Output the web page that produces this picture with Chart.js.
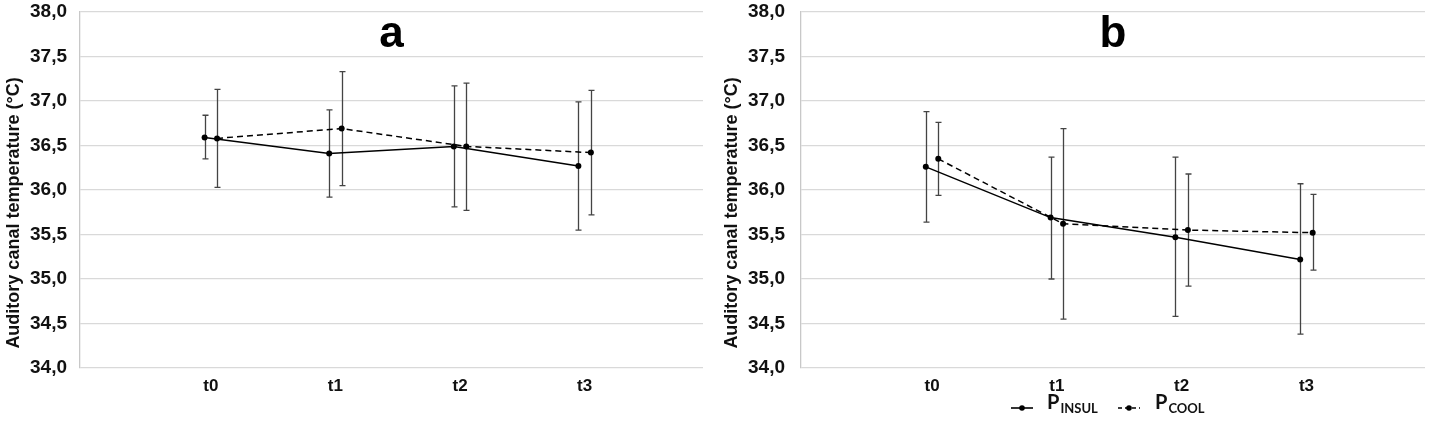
<!DOCTYPE html>
<html>
<head>
<meta charset="utf-8">
<script src="https://cdn.jsdelivr.net/npm/chart.js@4/dist/chart.umd.min.js"></script>
<style>
  html, body { margin: 0; padding: 0; background: #fff; }
  #wrap { position: relative; width: 1429px; height: 427px; }
  canvas { position: absolute; top: 0; }
</style>
</head>
<body>
<div id="wrap">
  <canvas id="cA" width="714" height="427" style="left:0px"></canvas>
  <canvas id="cB" width="712" height="427" style="left:717px"></canvas>
</div>
<script>
// ---- data ----
const categories = ['t0', 't1', 't2', 't3'];
const yTicks = [34.0, 34.5, 35.0, 35.5, 36.0, 36.5, 37.0, 37.5, 38.0];
const yTitle = 'Auditory canal temperature (°C)';

// panel a
const aInsul   = [36.59, 36.41, 36.49, 36.27];
const aInsulHi = [36.84, 36.90, 37.17, 36.99];
const aInsulLo = [36.35, 35.92, 35.81, 35.55];
const aCool    = [36.58, 36.69, 36.49, 36.42];
const aCoolHi  = [37.13, 37.33, 37.20, 37.12];
const aCoolLo  = [36.03, 36.05, 35.77, 35.72];

// panel b
const bInsul   = [36.26, 35.69, 35.47, 35.22];
const bInsulHi = [36.88, 36.37, 36.37, 36.07];
const bInsulLo = [35.64, 35.00, 34.58, 34.38];
const bCool    = [36.35, 35.62, 35.55, 35.52];
const bCoolHi  = [36.76, 36.69, 36.18, 35.95];
const bCoolLo  = [35.94, 34.55, 34.92, 35.10];

// ---- helpers ----
const SHIFT_INSUL = 1.0, SHIFT_COOL = 1.1, LABEL_SHIFT = 1.05;
const AX = "'Liberation Sans', Arial, sans-serif";

function pts(vals, shift) { return vals.map((v, i) => ({ x: i + shift, y: v })); }
function noPad(s) { s.paddingTop = 0; s.paddingBottom = 0; s.paddingLeft = 0; s.paddingRight = 0; }

const errorBars = {
  id: 'errorBars',
  beforeDatasetsDraw(chart, args, opts) {
    const ctx = chart.ctx, xs = chart.scales.x, ys = chart.scales.y;
    ctx.save();
    ctx.strokeStyle = '#444';
    ctx.lineWidth = 1.3;
    (opts.sets || []).forEach(s => {
      s.hi.forEach((h, i) => {
        const x = Math.round(xs.getPixelForValue(i + s.shift)) + 0.5;
        const yh = ys.getPixelForValue(h), yl = ys.getPixelForValue(s.lo[i]);
        ctx.beginPath();
        ctx.moveTo(x, yh); ctx.lineTo(x, yl);
        ctx.moveTo(x - 3, yh); ctx.lineTo(x + 3, yh);
        ctx.moveTo(x - 3, yl); ctx.lineTo(x + 3, yl);
        ctx.stroke();
      });
    });
    ctx.restore();
  }
};

const decor = {
  id: 'decor',
  afterDraw(chart, args, opts) {
    const ctx = chart.ctx, ca = chart.chartArea;
    ctx.save();
    ctx.fillStyle = '#000';
    // panel letter
    ctx.font = 'bold 44px ' + AX;
    ctx.textAlign = 'center';
    ctx.textBaseline = 'alphabetic';
    ctx.fillText(opts.letter, (ca.left + ca.right) / 2, 47);
    // y title
    ctx.save();
    ctx.translate(opts.titleX, 213);
    ctx.rotate(-Math.PI / 2);
    ctx.font = 'bold 18px ' + AX;
    ctx.fillStyle = '#111';
    ctx.textBaseline = 'middle';
    ctx.fillText(yTitle, 0, 0);
    ctx.restore();
    // legend
    if (opts.legend) {
      const cx = (ca.left + ca.right) / 2;
      const y = 409;
      const items = [
        { dash: [], main: 'P', sub: 'INSUL', lx: cx - 102, px: cx - 66 },
        { dash: [4, 3], main: 'P', sub: 'COOL', lx: cx + 5, px: cx + 42 }
      ];
      items.forEach(it => {
        ctx.strokeStyle = '#000';
        ctx.lineWidth = 1.6;
        ctx.setLineDash(it.dash);
        ctx.beginPath();
        ctx.moveTo(it.lx, y - 1); ctx.lineTo(it.lx + 22, y - 1);
        ctx.stroke();
        ctx.setLineDash([]);
        ctx.beginPath();
        ctx.arc(it.lx + 11, y - 1, 2.8, 0, Math.PI * 2);
        ctx.fillStyle = '#000';
        ctx.fill();
        ctx.textAlign = 'left';
        ctx.textBaseline = 'alphabetic';
        ctx.fillStyle = '#111';
        ctx.font = 'bold 20px Lato, "Open Sans", sans-serif';
        ctx.fillText(it.main, it.px, y);
        const w = ctx.measureText(it.main).width;
        ctx.font = 'bold 13px Lato, "Open Sans", sans-serif';
        ctx.fillText(it.sub, it.px + w + 1, y + 4);
      });
    }
    ctx.restore();
  }
};

function makeChart(id, insul, insulHi, insulLo, cool, coolHi, coolLo, cfg) {
  return new Chart(document.getElementById(id), {
    type: 'line',
    data: {
      datasets: [
        { label: 'P INSUL', data: pts(insul, SHIFT_INSUL), borderColor: '#000', backgroundColor: '#000',
          borderWidth: 1.5, pointRadius: 3, pointBackgroundColor: '#000', pointBorderWidth: 0, tension: 0 },
        { label: 'P COOL', data: pts(cool, SHIFT_COOL), borderColor: '#000', backgroundColor: '#000',
          borderWidth: 1.5, borderDash: [6, 4], pointRadius: 3, pointBackgroundColor: '#000', pointBorderWidth: 0, tension: 0 }
      ]
    },
    options: {
      responsive: false,
      animation: false,
      layout: { padding: { left: 0, right: cfg.padRight, top: 12, bottom: 0 } },
      plugins: {
        legend: { display: false },
        tooltip: { enabled: false },
        errorBars: { sets: [
          { shift: SHIFT_INSUL, hi: insulHi, lo: insulLo },
          { shift: SHIFT_COOL, hi: coolHi, lo: coolLo }
        ] },
        decor: { letter: cfg.letter, titleX: cfg.titleX, legend: cfg.legend }
      },
      scales: {
        x: {
          type: 'linear', min: 0, max: 5,
          grid: { display: false, drawTicks: false },
          border: { display: false },
          afterBuildTicks: s => { s.ticks = categories.map((c, i) => ({ value: i + LABEL_SHIFT })); },
          afterFit: s => { s.height = 59; noPad(s); },
          ticks: {
            padding: 8,
            autoSkip: false,
            maxRotation: 0,
            color: '#111',
            font: { family: AX, size: 17, weight: 'bold' },
            callback: v => categories[Math.round(v - LABEL_SHIFT)]
          }
        },
        y: {
          min: yTicks[0], max: yTicks[yTicks.length - 1],
          afterBuildTicks: s => { s.ticks = yTicks.map(v => ({ value: v })); },
          afterFit: s => { s.width = cfg.axisW; noPad(s); },
          grid: { color: '#d9d9d9', lineWidth: 1.3, drawTicks: false },
          border: { display: true, color: '#c8c8c8', width: 1.3 },
          ticks: {
            padding: cfg.tickPad,
            color: '#111',
            font: { family: AX, size: 19, weight: 'bold', lineHeight: 1.25 },
            callback: v => v.toFixed(1).replace('.', ',')
          }
        }
      }
    },
    plugins: [errorBars, decor]
  });
}

makeChart('cA', aInsul, aInsulHi, aInsulLo, aCool, aCoolHi, aCoolLo,
  { letter: 'a', titleX: 14, legend: false, padRight: 11, axisW: 80, tickPad: 13 });
makeChart('cB', bInsul, bInsulHi, bInsulLo, bCool, bCoolHi, bCoolLo,
  { letter: 'b', titleX: 15, legend: true, padRight: 3, axisW: 84, tickPad: 16 });
</script>
</body>
</html>
